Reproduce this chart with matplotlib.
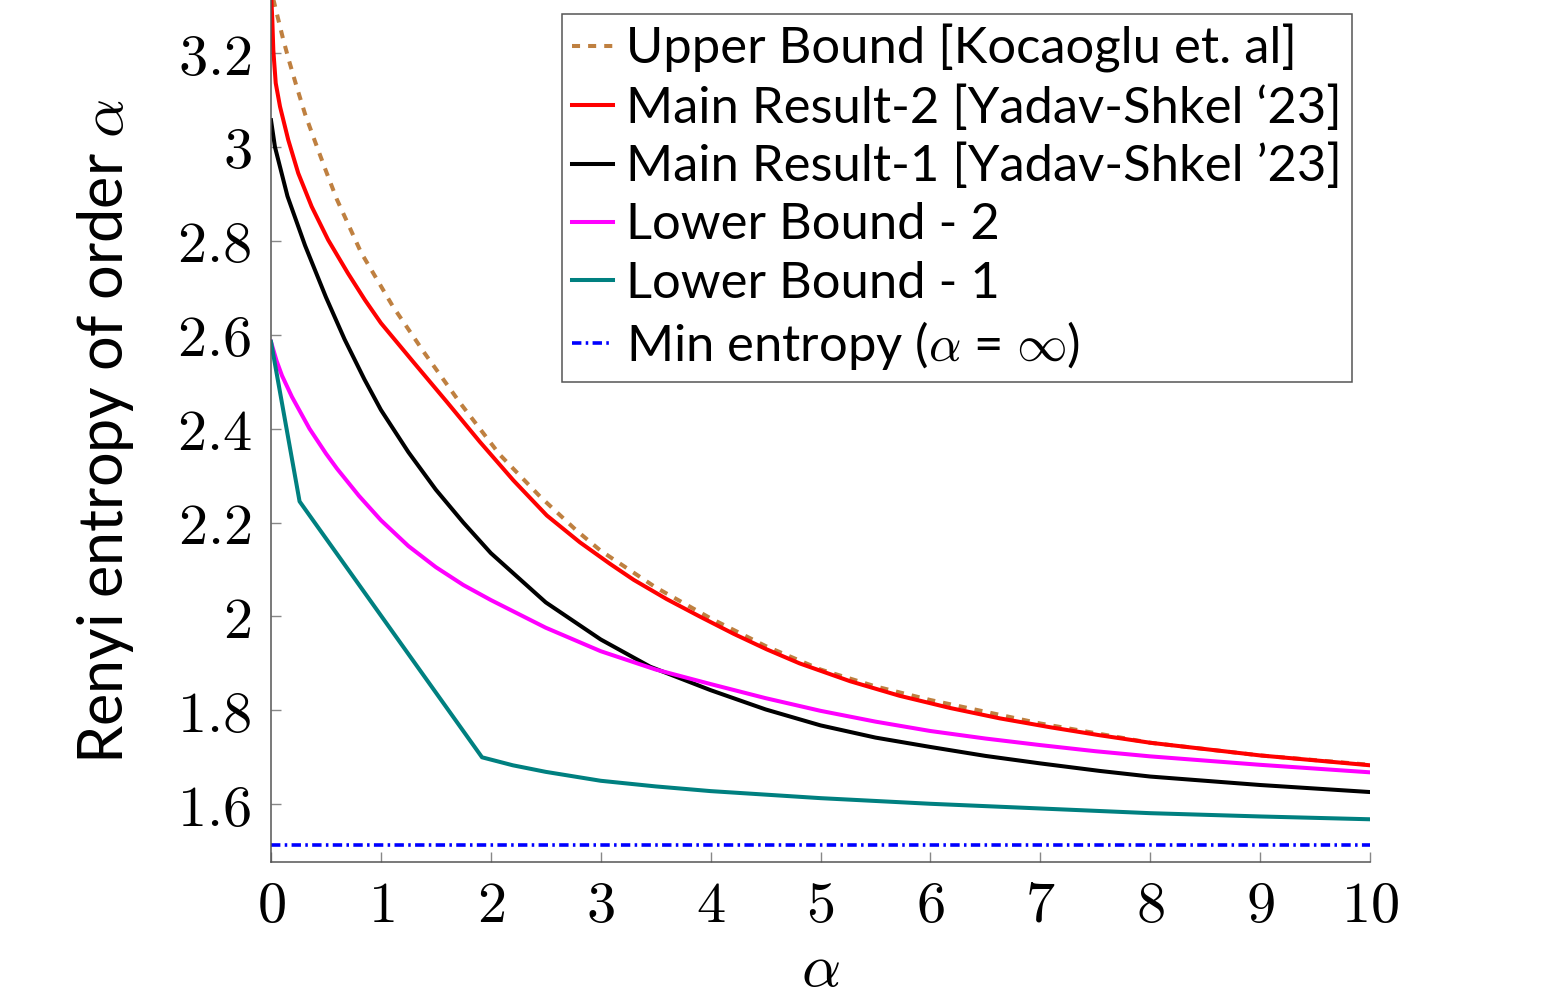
import numpy as np
import matplotlib
matplotlib.use("Agg")
import matplotlib.pyplot as plt

plt.rcParams["font.family"] = ["Lato", "DejaVu Sans"]
plt.rcParams["mathtext.fontset"] = "cm"

# curves (alpha, value)
upper_a = [0, 0.05, 0.11, 0.16, 0.23, 0.31, 0.4, 0.49, 0.6, 0.82, 1.11, 1.4, 1.72,
           2.08, 2.45, 2.78, 3.0, 3.5, 4, 4.5, 5, 5.5, 6, 7, 8, 9, 10]
upper_v = [3.335, 3.287, 3.23, 3.187, 3.131, 3.07, 3.012, 2.955, 2.888, 2.775, 2.66,
           2.56, 2.455, 2.345, 2.255, 2.183, 2.14, 2.062, 1.996, 1.937, 1.887, 1.851,
           1.822, 1.772, 1.731, 1.704, 1.684]

main2_a = [0, 0.012, 0.021, 0.043, 0.082, 0.157, 0.248, 0.37, 0.52, 0.70, 0.855, 1.0,
           1.295, 1.6, 1.9, 2.205, 2.51, 2.81, 3.085, 3.3, 3.6, 3.9, 4.21, 4.51, 4.81,
           5.27, 5.72, 6.18, 6.63, 7.09, 7.54, 8.0, 9.0, 10]
main2_v = [3.33, 3.27, 3.206, 3.136, 3.086, 3.015, 2.944, 2.873, 2.802, 2.731, 2.674,
           2.625, 2.542, 2.457, 2.372, 2.29, 2.215, 2.158, 2.112, 2.078, 2.037, 2.0,
           1.963, 1.93, 1.9, 1.862, 1.831, 1.805, 1.783, 1.764, 1.747, 1.731, 1.704, 1.683]

main1_a = [0, 0.036, 0.15, 0.31, 0.5, 0.67, 0.85, 1.0, 1.25, 1.5, 1.75, 2.0, 2.5, 3.0,
           3.45, 4.0, 4.5, 5.0, 5.5, 6.0, 6.5, 7.0, 7.54, 8, 9, 10]
main1_v = [3.057, 3.0, 2.895, 2.79, 2.68, 2.59, 2.505, 2.44, 2.35, 2.27, 2.2, 2.135,
           2.03, 1.951, 1.893, 1.843, 1.802, 1.768, 1.742, 1.722, 1.703, 1.687, 1.671,
           1.659, 1.641, 1.626]

low2_a = [0, 0.05, 0.1, 0.19, 0.35, 0.5, 0.6, 0.8, 1.0, 1.25, 1.5, 1.75, 2, 2.5, 3,
          3.5, 4, 4.5, 5, 5.5, 6, 6.5, 7, 7.5, 8, 9, 10]
low2_v = [2.585, 2.545, 2.513, 2.468, 2.40, 2.347, 2.315, 2.257, 2.205, 2.15, 2.105,
          2.067, 2.035, 1.976, 1.926, 1.887, 1.856, 1.826, 1.799, 1.776, 1.756, 1.74,
          1.726, 1.713, 1.702, 1.684, 1.668]

low1_a = [0, 0.26, 1.92, 2.2, 2.5, 3, 3.5, 4, 5, 6, 7, 8, 9, 10]
low1_v = [2.585, 2.245, 1.70, 1.683, 1.669, 1.65, 1.638, 1.628, 1.613, 1.601, 1.591,
          1.581, 1.574, 1.568]

min_entropy = 1.513

labels = [
    "Upper Bound [Kocaoglu et. al]",
    "Main Result-2 [Yadav-Shkel \u201823]",
    "Main Result-1 [Yadav-Shkel \u201923]",
    "Lower Bound - 2",
    "Lower Bound - 1",
    r"Min entropy ($\alpha$ = $\infty$)",
]

fig = plt.figure(figsize=(15.43, 9.99), dpi=100)
ax = fig.add_axes([271 / 1543, 1 - 862 / 999, 1099 / 1543, 862 / 999])

lw = 2.9
ax.plot(upper_a, upper_v, color="#bf8040", lw=lw, linestyle=(0, (2, 2)), label=labels[0])
ax.plot(main2_a, main2_v, color="#ff0000", lw=lw, label=labels[1])
ax.plot(main1_a, main1_v, color="black", lw=lw, label=labels[2])
ax.plot(low2_a, low2_v, color="#ff00ff", lw=lw, label=labels[3])
ax.plot(low1_a, low1_v, color="#008080", lw=lw, label=labels[4])
ax.plot([0, 10], [min_entropy, min_entropy], color="#0000ff", lw=2.6,
        linestyle=(0, (2.6, 1.2, 0.7, 1.2)), label=labels[5])

ax.set_xlim(0, 10)
ax.set_ylim(1.477, 3.313)

for side in ["top", "right"]:
    ax.spines[side].set_visible(False)
for side in ["left", "bottom"]:
    ax.spines[side].set_color("#555555")
    ax.spines[side].set_linewidth(1.1)

xt = np.arange(0, 11)
ax.set_xticks(xt)
ax.set_xticklabels([f"${v}$" for v in xt])
yt = [1.6, 1.8, 2.0, 2.2, 2.4, 2.6, 2.8, 3.0, 3.2]
ax.set_yticks(yt)
ax.set_yticklabels([f"${v:g}$" for v in yt])
ax.tick_params(direction="in", length=7, width=1, color="#888888",
               labelsize=42, top=False, right=False)
ax.tick_params(axis="x", pad=12)
ax.tick_params(axis="y", pad=14)

ax.set_xlabel(r"$\alpha$", fontsize=44, labelpad=6)
ax.set_ylabel(r"Renyi entropy of order $\alpha$", fontsize=44)
ax.yaxis.set_label_coords(-0.123, 0.5)

leg = ax.legend(loc="upper left", bbox_to_anchor=(0.265, 0.984), borderaxespad=0,
                fancybox=False, framealpha=1, edgecolor="#555555",
                handlelength=0.8, handletextpad=0.25, labelspacing=0.24,
                borderpad=0.2, prop={"size": 36.5})
leg.get_frame().set_linewidth(1.1)

fig.savefig("out.png", dpi=100)
